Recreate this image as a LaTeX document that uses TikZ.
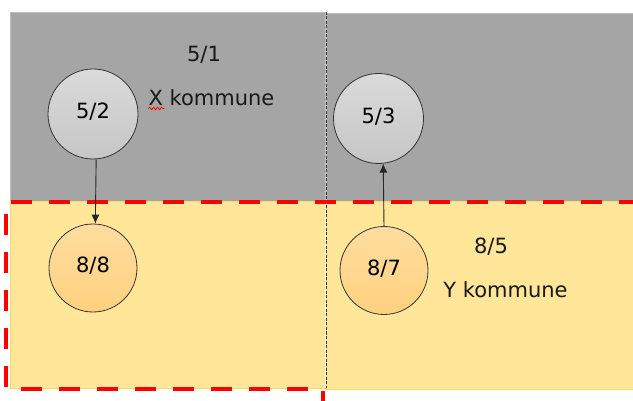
\documentclass[tikz,border=0pt]{standalone}
\usepackage{fontspec}
\setmainfont{DejaVu Sans}
\usetikzlibrary{arrows.meta,decorations.pathmorphing}
\definecolor{grayarea}{HTML}{A5A5A5}
\definecolor{grayedge}{HTML}{BFBFBF}
\definecolor{yellowarea}{HTML}{FFE699}
\definecolor{yellowedge}{HTML}{FFD966}
\definecolor{circtop}{HTML}{DADADA}
\definecolor{circbot}{HTML}{C6C6C6}
\definecolor{ortop}{HTML}{FFDDA0}
\definecolor{orbot}{HTML}{FFD17E}
\definecolor{redline}{HTML}{FF0000}
\tikzset{
  x=1pt, y=-1pt,
  font=\fontsize{21}{24}\selectfont,
  grayfield/.style={fill=grayarea, draw=grayedge, line width=0.8pt},
  yellowfield/.style={fill=yellowarea, draw=yellowedge, line width=0.8pt},
  graycirc/.style={circle, draw=black!80, line width=0.8pt, minimum size=90pt, inner sep=0pt, top color=circtop, bottom color=circbot},
  orcirc/.style={circle, draw=black!80, line width=0.8pt, minimum size=88pt, inner sep=0pt, top color=ortop, bottom color=orbot},
  conn/.style={draw=black!85, line width=0.9pt, -{Latex[length=9pt,width=8pt]}},
  reddash/.style={draw=redline, line width=4.5pt, dash pattern=on 21pt off 17pt},
  divider/.style={draw=black!80, line width=0.9pt, dash pattern=on 3pt off 1.5pt},
  lbl/.style={anchor=base, inner sep=0pt, text=black!90},
}
\begin{document}
\begin{tikzpicture}
\useasboundingbox (0,0) rectangle (633,401);
\begin{scope}
\clip (0,0) rectangle (633,401);
% fields
\path[grayfield] (10,12) rectangle (325,201);
\path[grayfield] (326,13) rectangle (640,201);
\path[yellowfield] (10,201) rectangle (325,388);
\path[yellowfield] (326,201) rectangle (640,389);
\draw[white, line width=1pt] (325.5,201) -- (325.5,388);
\draw[divider] (326,12) -- (326,388);
% red dashed border
\draw[reddash] (640,202) -- (6,202) -- (6,389) -- (323,389) -- (323,410);
\end{scope}
% circles
\node[graycirc] (n52) at (93,114) {\raisebox{6pt}{5/2}};
\node[graycirc] (n53) at (378.5,118.5) {\raisebox{6pt}{5/3}};
\node[orcirc] (n88) at (93,268) {\raisebox{6pt}{8/8}};
\node[orcirc] (n87) at (384,270.5) {\raisebox{6pt}{8/7}};
% connectors
\draw[conn] (n52.274) -- (n88.87);
\draw[conn] (n87.90) -- (n53.276);
% labels
\node[lbl] (t51) at (204,62) {5/1};
\node[lbl] (tx) at (211.5,106) {X kommune};
\node[lbl] (t85) at (491,254) {8/5};
\node[lbl] (ty) at (505.5,298) {Y kommune};
% spell-check squiggle
\draw[redline, line width=0.8pt, decorate, decoration={snake, amplitude=1.2pt, segment length=4pt}] ([yshift=-2.5pt]tx.base west) -- ++(16,0);
\end{tikzpicture}
\end{document}
